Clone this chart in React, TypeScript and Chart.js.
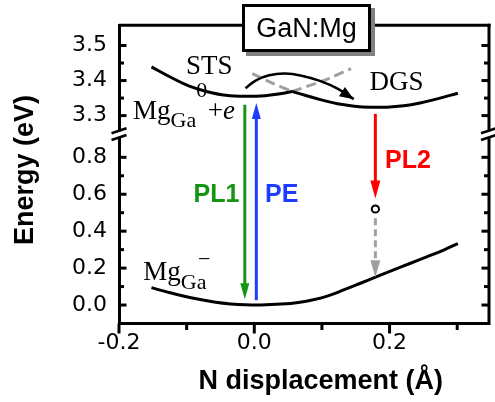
import React, { useEffect, useRef } from 'react';
import { Chart, registerables } from 'chart.js';

Chart.register(...registerables);

// ---- axis ticks ----
const X_LABEL_TICKS = [-0.2, 0.0, 0.2];
const X_MINOR_TICKS = [-0.1, 0.1, 0.3];
const Y_TOP_LABEL_TICKS = [3.3, 3.4, 3.5];
const Y_TOP_MINOR_TICKS = [3.35, 3.45];
const Y_BOT_LABEL_TICKS = [0.0, 0.2, 0.4, 0.6, 0.8];
const Y_BOT_MINOR_TICKS = [0.1, 0.3, 0.5, 0.7];

// ---- excited state Mg_Ga^0 + e : STS branch and DGS branch ----
const STS_X = [-0.152, -0.12, -0.096, -0.071, -0.042, -0.013, 0.016, 0.041, 0.056];
const STS_Y = [3.439, 3.406, 3.384, 3.369, 3.358, 3.355, 3.357, 3.363, 3.369];
const DGS_X = [0.056, 0.075, 0.099, 0.123, 0.148, 0.172, 0.196, 0.221, 0.245, 0.269, 0.301];
const DGS_Y = [3.369, 3.358, 3.345, 3.334, 3.327, 3.324, 3.324, 3.328, 3.336, 3.347, 3.364];
// dashed continuations of the two branches
const DGS_EXT_X = [-0.003, 0.025, 0.056];
const DGS_EXT_Y = [3.42, 3.394, 3.369];
const STS_EXT_X = [0.056, 0.1, 0.143];
const STS_EXT_Y = [3.369, 3.398, 3.434];
// curved transfer arrow STS -> DGS
const ARC_X = [-0.013, 0.002, 0.022, 0.045, 0.07, 0.097, 0.123, 0.147];
const ARC_Y = [3.378, 3.4, 3.415, 3.42, 3.414, 3.399, 3.377, 3.347];
// ground state Mg_Ga^-
const GROUND_X = [-0.152, -0.128, -0.105, -0.08, -0.057, -0.035, -0.013, 0.01, 0.04, 0.065, 0.089, 0.109, 0.133, 0.157, 0.18, 0.206, 0.23, 0.255, 0.28, 0.301];
const GROUND_Y = [0.094, 0.07, 0.049, 0.03, 0.015, 0.006, 0.001, 0.0, 0.005, 0.014, 0.03, 0.05, 0.083, 0.118, 0.152, 0.19, 0.225, 0.261, 0.298, 0.333];
// intermediate level (open circle)
const LEVEL_X = [0.179];
const LEVEL_Y = [0.52];
// vertical transitions: PL1, PE, PL2, non-radiative
const ARROW_X = [-0.014, 0.003, 0.179, 0.179];
const ARROW_FROM = [3.331, 0.026, 3.305, 0.47];
const ARROW_TO = [0.031, 3.336, 0.577, 0.15];
const ARROW_FROM_AXIS = ['yTop', 'yBot', 'yTop', 'yBot'];
const ARROW_TO_AXIS = ['yBot', 'yTop', 'yBot', 'yBot'];

const GREEN = '#149614';
const BLUE = '#1e3cff';
const RED = '#ff0000';
const GRAY = '#a0a0a0';
const ARROW_STYLE = [
  { color: GREEN, lw: 3, len: 16, w: 9, dash: [] as number[] },
  { color: BLUE, lw: 3, len: 16, w: 9, dash: [] as number[] },
  { color: RED, lw: 3, len: 18, w: 10, dash: [] as number[] },
  { color: GRAY, lw: 3, len: 17, w: 10, dash: [7, 4] },
];

const SANS = '"Liberation Sans", Arial, sans-serif';
const SERIF = '"Liberation Serif", "Times New Roman", serif';
const TICK_FONT = 'DejaVu Sans';

const pts = (xs: number[], ys: number[]) => xs.map((x, i) => ({ x, y: ys[i] }));

function drawArrow(ctx: any, x0: number, y0: number, x1: number, y1: number, s: any) {
  const dx = x1 - x0, dy = y1 - y0;
  const L = Math.hypot(dx, dy) || 1;
  const ux = dx / L, uy = dy / L;
  const bx = x1 - ux * s.len, by = y1 - uy * s.len;
  ctx.save();
  ctx.strokeStyle = s.color;
  ctx.fillStyle = s.color;
  ctx.lineWidth = s.lw;
  ctx.setLineDash(s.dash);
  ctx.beginPath();
  ctx.moveTo(x0, y0);
  ctx.lineTo(bx + ux * 2, by + uy * 2);
  ctx.stroke();
  ctx.setLineDash([]);
  ctx.beginPath();
  ctx.moveTo(x1, y1);
  ctx.lineTo(bx - uy * s.w / 2, by + ux * s.w / 2);
  ctx.lineTo(bx + uy * s.w / 2, by - ux * s.w / 2);
  ctx.closePath();
  ctx.fill();
  ctx.restore();
}

function line(ctx: any, x0: number, y0: number, x1: number, y1: number, lw: number) {
  ctx.lineWidth = lw;
  ctx.beginPath();
  ctx.moveTo(x0, y0);
  ctx.lineTo(x1, y1);
  ctx.stroke();
}

const decorPlugin = {
  id: 'decor',
  afterDatasetsDraw(chart: any) {
    const ctx = chart.ctx;
    const xs = chart.scales.x;
    for (let i = 0; i < ARROW_X.length; i++) {
      const x = xs.getPixelForValue(ARROW_X[i]);
      const y0 = chart.scales[ARROW_FROM_AXIS[i]].getPixelForValue(ARROW_FROM[i]);
      const y1 = chart.scales[ARROW_TO_AXIS[i]].getPixelForValue(ARROW_TO[i]);
      drawArrow(ctx, x, y0, x, y1, ARROW_STYLE[i]);
    }
    // arrow head on curved arc
    const meta = chart.getDatasetMeta(2);
    const el = meta.data;
    const last = el[el.length - 1];
    const px = last.cp1x !== undefined ? last.cp1x : el[el.length - 2].x;
    const py = last.cp1y !== undefined ? last.cp1y : el[el.length - 2].y;
    const dx = last.x - px, dy = last.y - py, L = Math.hypot(dx, dy) || 1;
    const ux = dx / L, uy = dy / L;
    const hl = 14, hw = 11;
    const bx = last.x - ux * hl, by = last.y - uy * hl;
    ctx.save();
    ctx.fillStyle = '#000';
    ctx.beginPath();
    ctx.moveTo(last.x, last.y);
    ctx.lineTo(bx - uy * hw / 2, by + ux * hw / 2);
    ctx.lineTo(bx + uy * hw / 2, by - ux * hw / 2);
    ctx.closePath();
    ctx.fill();
    ctx.restore();
  },
  afterDraw(chart: any) {
    const ctx = chart.ctx;
    const { left, right, top, bottom } = chart.chartArea;
    const xs = chart.scales.x, yT = chart.scales.yTop, yB = chart.scales.yBot;
    ctx.save();
    ctx.strokeStyle = '#000';
    ctx.lineCap = 'butt';
    // frame top / right
    line(ctx, left, top, right + 1.5, top, 3);
    line(ctx, right, top - 1.5, right, bottom + 1.5, 3);
    // y ticks (inward), both sides
    const yt = (sc: any, vals: number[], len: number) => {
      vals.forEach((v) => {
        const y = sc.getPixelForValue(v);
        line(ctx, left, y, left + len + 1.5, y, 3);
        line(ctx, right, y, right - len - 1.5, y, 3);
      });
    };
    yt(yT, Y_TOP_LABEL_TICKS, 6);
    yt(yT, Y_TOP_MINOR_TICKS, 3.5);
    yt(yB, Y_BOT_LABEL_TICKS, 6);
    yt(yB, Y_BOT_MINOR_TICKS, 3.5);
    // x ticks (outward)
    X_LABEL_TICKS.forEach((v) => {
      const x = xs.getPixelForValue(v);
      line(ctx, x, bottom, x, bottom + 10, 3);
    });
    X_MINOR_TICKS.forEach((v) => {
      const x = xs.getPixelForValue(v);
      line(ctx, x, bottom, x, bottom + 6.5, 3);
    });
    // axis breaks
    const brk = (cx: number) => {
      ctx.fillStyle = '#fff';
      ctx.fillRect(cx - 3.5, 131.5, 7, 5.5);
      line(ctx, cx - 8, 133.3, cx + 7, 128.3, 2.5);
      line(ctx, cx - 8, 140, cx + 7, 135, 2.5);
    };
    brk(left + 0.5);
    brk(right);

    // axis titles
    ctx.fillStyle = '#000';
    ctx.font = `bold 27px ${SANS}`;
    ctx.textAlign = 'center';
    ctx.textBaseline = 'alphabetic';
    ctx.fillText('N displacement (Å)', 320.7, 389);
    ctx.save();
    ctx.translate(33, 170);
    ctx.rotate(-Math.PI / 2);
    ctx.fillText('Energy (eV)', 0, 0);
    ctx.restore();

    // serif labels
    ctx.textAlign = 'left';
    ctx.font = `27px ${SERIF}`;
    ctx.fillText('STS', 186, 73.5);
    ctx.fillText('DGS', 369.5, 90);
    // Mg_Ga^0 + e
    let x0 = 133;
    ctx.font = `27px ${SERIF}`;
    ctx.fillText('Mg', x0, 118.5);
    x0 += ctx.measureText('Mg').width;
    ctx.font = `22px ${SERIF}`;
    ctx.fillText('Ga', x0, 127);
    x0 += ctx.measureText('Ga').width;
    ctx.fillText('0', x0, 96.7);
    x0 += ctx.measureText('0').width + 0.5;
    ctx.font = `27px ${SERIF}`;
    ctx.fillText('+', x0, 118.5);
    x0 += ctx.measureText('+').width;
    ctx.font = `italic 27px ${SERIF}`;
    ctx.fillText('e', x0, 118.5);
    // Mg_Ga^-
    let x1 = 143.3;
    ctx.font = `27px ${SERIF}`;
    ctx.fillText('Mg', x1, 280);
    x1 += ctx.measureText('Mg').width;
    ctx.font = `22px ${SERIF}`;
    ctx.fillText('Ga', x1, 288.5);
    x1 += ctx.measureText('Ga').width;
    ctx.textAlign = 'right';
    ctx.fillText('\u2212', x1 + 4, 266);
    ctx.textAlign = 'left';

    // transition labels
    ctx.font = `bold 25px ${SANS}`;
    ctx.fillStyle = GREEN;
    ctx.fillText('PL1', 193.5, 202);
    ctx.fillStyle = BLUE;
    ctx.fillText('PE', 265, 202);
    ctx.fillStyle = RED;
    ctx.fillText('PL2', 385, 168.3);

    // GaN:Mg box
    const bx0 = 242, by0 = 4, bw = 129, bh = 48;
    ctx.fillStyle = '#808080';
    ctx.fillRect(bx0 + 4, by0 + 4, bw, bh);
    ctx.fillStyle = '#fff';
    ctx.fillRect(bx0, by0, bw, bh);
    ctx.strokeStyle = '#000';
    ctx.lineWidth = 3;
    ctx.strokeRect(bx0 + 1.5, by0 + 1.5, bw - 3, bh - 3);
    ctx.fillStyle = '#000';
    ctx.font = `27px ${SANS}`;
    ctx.textAlign = 'center';
    ctx.fillText('GaN:Mg', bx0 + bw / 2, 36.5);
    ctx.restore();
  },
};

const fmt = (v: any) => Number(v).toFixed(1);

export default function App() {
  const ref = useRef<HTMLCanvasElement>(null);
  useEffect(() => {
    document.body.style.margin = '0';
    const curve = (data: any, axis: string, extra: any = {}) => ({
      type: 'line',
      data,
      yAxisID: axis,
      showLine: true,
      borderColor: '#000',
      borderWidth: 3,
      pointRadius: 0,
      tension: 0.4,
      fill: false,
      ...extra,
    });
    const chart = new Chart(ref.current as HTMLCanvasElement, {
      type: 'scatter',
      data: {
        datasets: [
          curve(pts(STS_X, STS_Y), 'yTop'),
          curve(pts(DGS_X, DGS_Y), 'yTop'),
          curve(pts(ARC_X, ARC_Y), 'yTop', { borderWidth: 2.5 }),
          curve(pts(GROUND_X, GROUND_Y), 'yBot'),
          curve(pts(DGS_EXT_X, DGS_EXT_Y), 'yTop', { borderColor: GRAY, borderDash: [10, 5], tension: 0.2 }),
          curve(pts(STS_EXT_X, STS_EXT_Y), 'yTop', { borderColor: GRAY, borderDash: [10, 5], tension: 0.2 }),
          {
            type: 'scatter',
            data: pts(LEVEL_X, LEVEL_Y),
            yAxisID: 'yBot',
            pointRadius: 3.6,
            borderWidth: 2,
            borderColor: '#000',
            backgroundColor: '#fff',
          },
        ] as any,
      },
      options: {
        animation: false,
        responsive: false,
        maintainAspectRatio: false,
        layout: { padding: { left: 0, right: 1, top: 21, bottom: 0 } },
        plugins: { legend: { display: false }, tooltip: { enabled: false } },
        scales: {
          x: {
            type: 'linear',
            position: 'bottom',
            min: -0.2,
            max: 0.347,
            border: { display: true, color: '#000', width: 3 },
            grid: { display: false, drawTicks: false },
            ticks: { color: '#000', padding: 7, font: { family: TICK_FONT, size: 22 }, callback: fmt, maxRotation: 0 },
            afterBuildTicks: (s: any) => { s.ticks = X_LABEL_TICKS.map((value) => ({ value })); },
            afterFit: (s: any) => { s.height = 78.5; },
          },
          yBot: {
            type: 'linear',
            position: 'left',
            stack: 'y',
            stackWeight: 189.5,
            min: -0.1,
            max: 0.912,
            border: { display: true, color: '#000', width: 3 },
            grid: { display: false, drawTicks: false },
            ticks: { color: '#000', padding: 12, font: { family: TICK_FONT, size: 22 }, callback: fmt },
            afterBuildTicks: (s: any) => { s.ticks = Y_BOT_LABEL_TICKS.map((value) => ({ value })); },
            afterFit: (s: any) => { s.width = 119; },
          },
          yTop: {
            type: 'linear',
            position: 'left',
            stack: 'y',
            stackWeight: 113,
            min: 3.24,
            max: 3.558,
            border: { display: true, color: '#000', width: 3 },
            grid: { display: false, drawTicks: false },
            ticks: { color: '#000', padding: 12, font: { family: TICK_FONT, size: 22 }, callback: fmt },
            afterBuildTicks: (s: any) => { s.ticks = Y_TOP_LABEL_TICKS.map((value) => ({ value })); },
            afterFit: (s: any) => { s.width = 119; },
          },
        } as any,
      },
      plugins: [decorPlugin],
    } as any);
    return () => chart.destroy();
  }, []);
  return <canvas ref={ref} width={495} height={402} style={{ display: 'block' }} />;
}
